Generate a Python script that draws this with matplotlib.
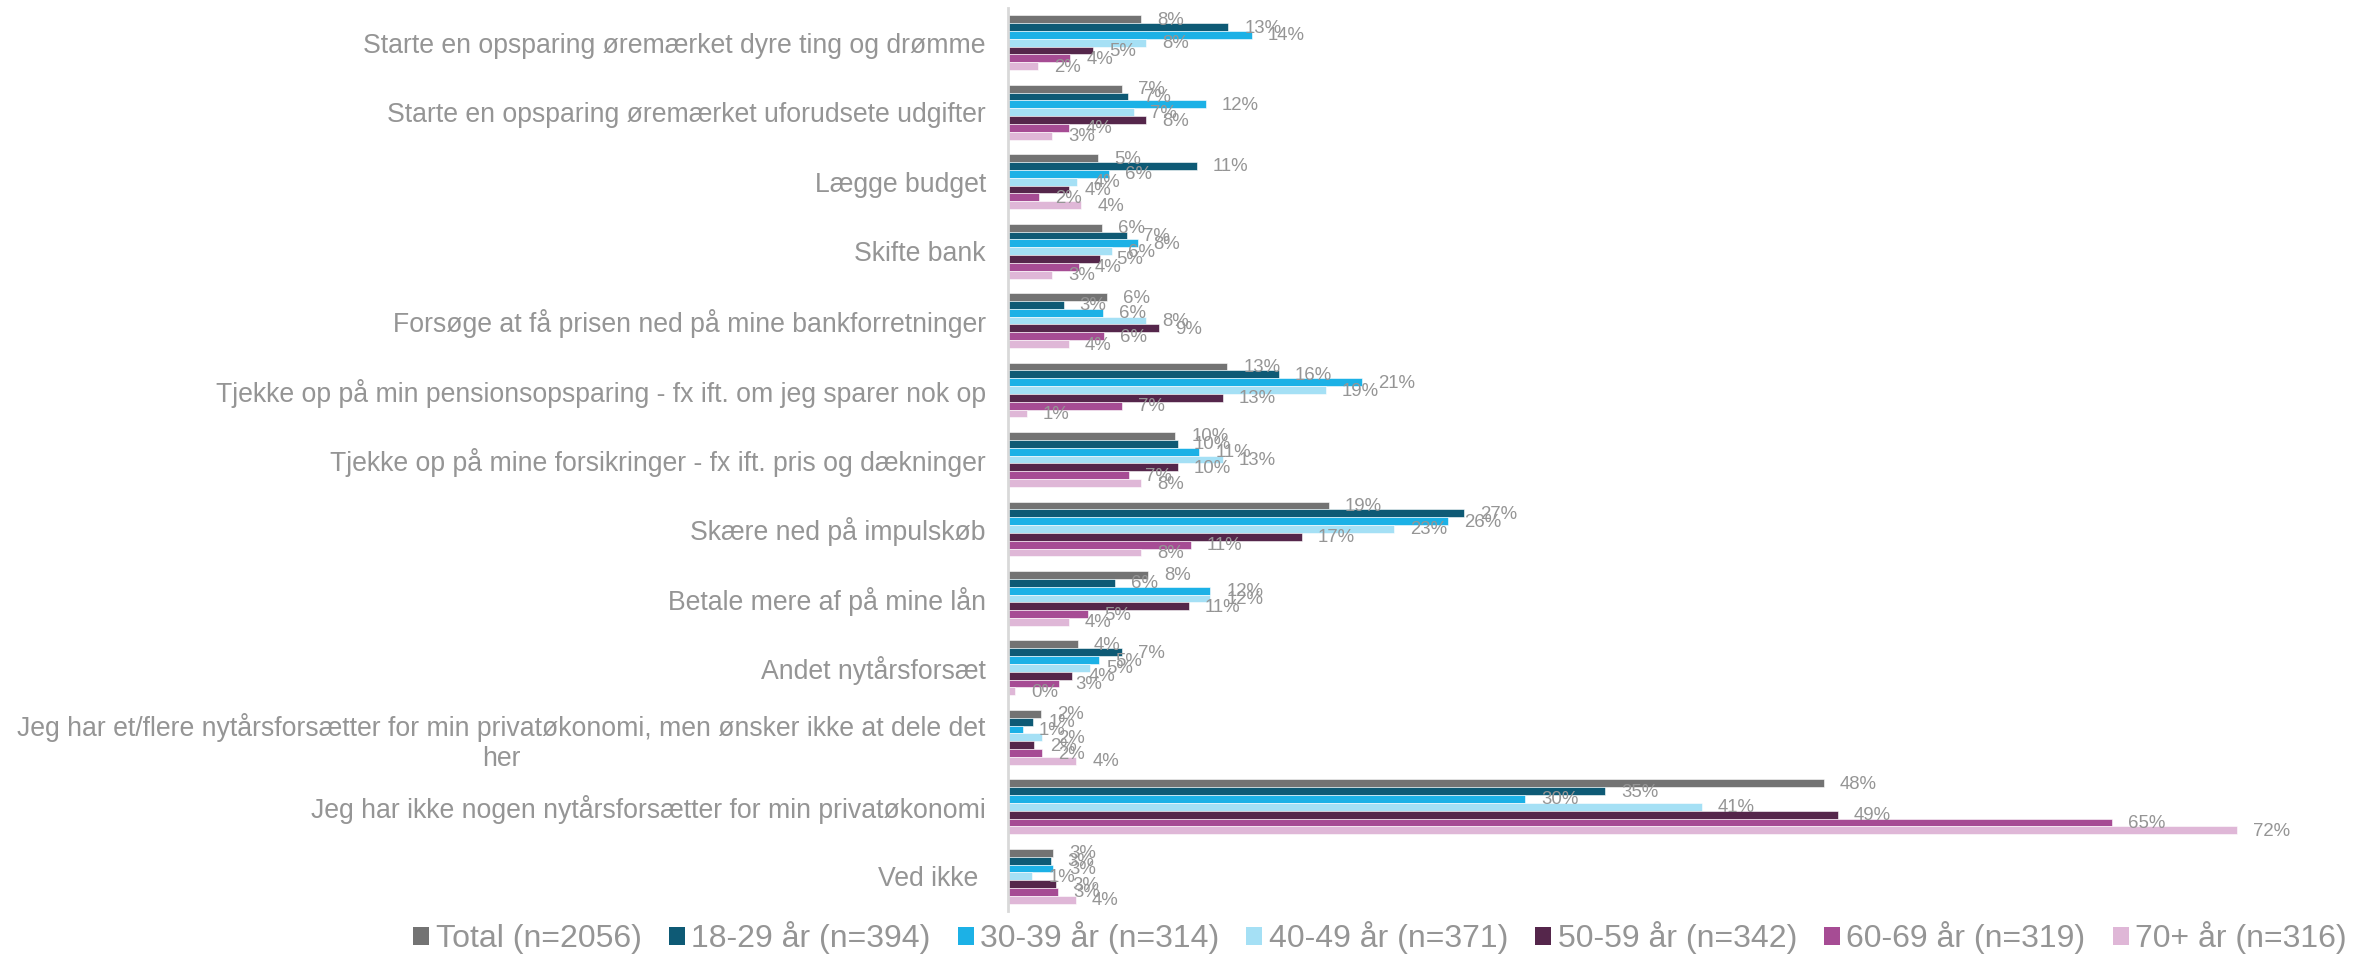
import matplotlib
matplotlib.use("Agg")
import matplotlib.pyplot as plt
from matplotlib.patches import Patch
import numpy as np

plt.rcParams['font.family'] = ['Liberation Sans', 'DejaVu Sans']

categories = [
    "Starte en opsparing øremærket dyre ting og drømme",
    "Starte en opsparing øremærket uforudsete udgifter",
    "Lægge budget",
    "Skifte bank",
    "Forsøge at få prisen ned på mine bankforretninger",
    "Tjekke op på min pensionsopsparing - fx ift. om jeg sparer nok op",
    "Tjekke op på mine forsikringer - fx ift. pris og dækninger",
    "Skære ned på impulskøb",
    "Betale mere af på mine lån",
    "Andet nytårsforsæt",
    "Jeg har et/flere nytårsforsætter for min privatøkonomi, men ønsker ikke at dele det\nher",
    "Jeg har ikke nogen nytårsforsætter for min privatøkonomi",
    "Ved ikke ",
]

series_names = [
    "Total (n=2056)",
    "18-29 år (n=394)",
    "30-39 år (n=314)",
    "40-49 år (n=371)",
    "50-59 år (n=342)",
    "60-69 år (n=319)",
    "70+ år (n=316)",
]

total   = [7.8, 6.7, 5.3, 5.5, 5.8, 12.85, 9.8, 18.8, 8.2, 4.1, 1.95, 47.8, 2.64]
age1829 = [12.9, 7.05, 11.07, 6.95, 3.26, 15.87, 9.95, 26.7, 6.25, 6.66, 1.45, 35.0, 2.54]
age3039 = [14.3, 11.6, 5.9, 7.6, 5.56, 20.75, 11.2, 25.8, 11.85, 5.33, 0.88, 30.3, 2.64]
age4049 = [8.1, 7.4, 4.06, 6.07, 8.1, 18.6, 12.6, 22.6, 11.85, 4.8, 2.0, 40.65, 1.42]
age5059 = [5.0, 8.1, 3.55, 5.4, 8.85, 12.6, 9.95, 17.2, 10.6, 3.77, 1.55, 48.6, 2.8]
age6069 = [3.65, 3.6, 1.8, 4.16, 5.6, 6.7, 7.1, 10.7, 4.7, 3.0, 2.0, 64.7, 2.9]
age70   = [1.76, 2.6, 4.3, 2.6, 3.55, 1.1, 7.8, 7.8, 3.55, 0.4, 4.0, 72.0, 3.96]

series = [total, age1829, age3039, age4049, age5059, age6069, age70]
colors = ["#737373", "#0E5A75", "#1CB1E6", "#A5E0F5", "#55264B", "#A64C94", "#DFB7D7"]

label_gray = "#959595"

W, H = 2359, 956
fig = plt.figure(figsize=(W / 100, H / 100), dpi=100)
ax_left = 1008 / W
ax_w = 79 * 17.07 / W
ax_bottom = (H - 911) / H
ax_h = 903 / H
ax = fig.add_axes([ax_left, ax_bottom, ax_w, ax_h])

n_series = len(series)
bar_h = 0.79 / n_series
y = np.arange(len(categories))
for i, (vals, col) in enumerate(zip(series, colors)):
    offs = -0.395 + bar_h * (i + 0.5)
    ys = y + offs
    ax.barh(ys, vals, height=bar_h, color=col, edgecolor='white', linewidth=0.4)
    for yy, v in zip(ys, vals):
        ax.annotate(f"{int(np.floor(v + 0.5))}%", xy=(v, yy), xytext=(16, -1),
                    textcoords='offset pixels', ha='left', va='center',
                    fontsize=13.4, color=label_gray)

ax.set_xlim(0, 79)
ax.set_ylim(len(categories) - 0.5, -0.5)
ax.set_yticks(y)
ax.set_yticklabels(categories, fontsize=19.2, color=label_gray, multialignment='center')
ax.tick_params(axis='y', length=0, pad=16)
ax.set_xticks([])
for s in ['top', 'right', 'bottom']:
    ax.spines[s].set_visible(False)
ax.spines['left'].set_color('#D9D9D9')
ax.spines['left'].set_linewidth(2)

handles = [Patch(facecolor=c, edgecolor='none') for c in colors]
fig.legend(handles, series_names, loc='center', ncol=7,
           bbox_to_anchor=(1380 / W, 18 / H), frameon=False,
           fontsize=23, labelcolor=label_gray, handlelength=0.5, handleheight=0.5,
           handletextpad=0.2, columnspacing=0.85)

fig.savefig("out.png", dpi=100)
